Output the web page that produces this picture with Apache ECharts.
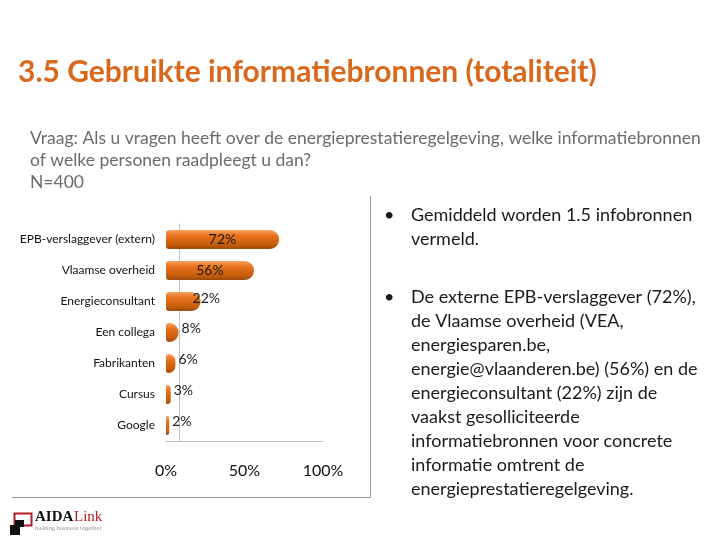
<!DOCTYPE html>
<html><head><meta charset="utf-8">
<script src="https://cdn.jsdelivr.net/npm/echarts@6/dist/echarts.min.js"></script>
<style>html,body{margin:0;padding:0;background:#fff}#c{width:720px;height:540px}</style>
</head><body><div id="c"></div>
<script>
const categories = ['EPB-verslaggever (extern)', 'Vlaamse overheid', 'Energieconsultant', 'Een collega', 'Fabrikanten', 'Cursus', 'Google'];
const values = [72, 56, 22, 8, 6, 3, 2];
const axisMin = 0, axisMax = 100, axisStep = 50;
const titleText = '3.5 Gebruikte informatiebronnen (totaliteit)';
const questionLines = ['Vraag: Als u vragen heeft over de energieprestatieregelgeving, welke informatiebronnen', 'of welke personen raadpleegt u dan?', 'N=400'];
const bullet1Lines = ['Gemiddeld worden 1.5 infobronnen', 'vermeld.'];
const bullet2Lines = ['De externe EPB-verslaggever (72%),', 'de Vlaamse overheid (VEA,', 'energiesparen.be,', 'energie@vlaanderen.be) (56%) en de', 'energieconsultant (22%) zijn de', 'vaakst gesolliciteerde', 'informatiebronnen voor concrete', 'informatie omtrent de', 'energieprestatieregelgeving.'];

const FONT = 'Lato';
const chart = echarts.init(document.getElementById('c'), null, {renderer: 'canvas'});

const barGradient = new echarts.graphic.LinearGradient(0, 0, 0, 1, [
  {offset: 0, color: '#F2A262'},
  {offset: 0.3, color: '#E8721C'},
  {offset: 0.75, color: '#C85E0C'},
  {offset: 1, color: '#9C4A0A'}
]);

const seriesData = values.map(v => ({
  value: v,
  label: v >= 50
    ? {position: 'inside', offset: [0, 0]}
    : (v >= 20 ? {position: 'right', distance: -8, offset: [0, -3]} : {position: 'right', distance: 3, offset: [0, -4]})
}));

chart.setOption({
  backgroundColor: '#ffffff',
  animation: false,
  title: [
    {text: titleText, left: 18, top: 57, padding: 0, textStyle: {fontFamily: FONT, fontSize: 30, fontWeight: 'bold', color: '#D8691C'}},
    {text: questionLines.join('\n'), left: 30, top: 127, padding: 0, textStyle: {fontFamily: FONT, fontSize: 17.5, fontWeight: 'normal', color: '#6b6b6b', lineHeight: 22}},
    {text: '•', left: 384, top: 203, padding: 0, textStyle: {fontFamily: FONT, fontSize: 18, fontWeight: 'normal', color: '#1a1a1a', lineHeight: 24}},
    {text: bullet1Lines.join('\n'), left: 411, top: 203, padding: 0, textStyle: {fontFamily: FONT, fontSize: 18, fontWeight: 'normal', color: '#1a1a1a', lineHeight: 24}},
    {text: '•', left: 384, top: 285, padding: 0, textStyle: {fontFamily: FONT, fontSize: 18, fontWeight: 'normal', color: '#1a1a1a', lineHeight: 24}},
    {text: bullet2Lines.join('\n'), left: 411, top: 285, padding: 0, textStyle: {fontFamily: FONT, fontSize: 18, fontWeight: 'normal', color: '#1a1a1a', lineHeight: 24}}
  ],
  grid: {left: 166, top: 224, width: 157, height: 217, containLabel: false},
  xAxis: {
    type: 'value', min: axisMin, max: axisMax, interval: axisStep,
    axisLine: {show: true, lineStyle: {color: '#BFBFBF', width: 1}},
    axisTick: {show: false},
    splitLine: {show: false},
    axisLabel: {formatter: '{value}%', fontFamily: FONT, fontSize: 16, color: '#111', margin: 22}
  },
  yAxis: {
    type: 'category', data: categories, inverse: true, offset: -13,
    axisLine: {show: true, lineStyle: {color: '#BFBFBF', width: 1}},
    axisTick: {show: false},
    axisLabel: {fontFamily: FONT, fontSize: 12, color: '#111', margin: 24}
  },
  series: [{
    type: 'bar', data: seriesData, barWidth: 19,
    itemStyle: {color: barGradient, borderRadius: [3, 9, 9, 3]},
    label: {show: true, formatter: '{c}%', fontFamily: FONT, fontSize: 14, color: '#1a1a1a'}
  }],
  graphic: [
    {type: 'line', shape: {x1: 370.5, y1: 196, x2: 370.5, y2: 497}, style: {stroke: '#9a9a9a', lineWidth: 1}},
    {type: 'line', shape: {x1: 12, y1: 497.5, x2: 371, y2: 497.5}, style: {stroke: '#9a9a9a', lineWidth: 1}},
    {type: 'rect', shape: {x: 14.5, y: 513.5, width: 17, height: 12}, style: {fill: 'none', stroke: '#B01E23', lineWidth: 2}},
    {type: 'rect', shape: {x: 15, y: 520, width: 9, height: 7}, style: {fill: '#111'}},
    {type: 'rect', shape: {x: 10, y: 525, width: 10, height: 10}, style: {fill: '#111'}},
    {type: 'text', x: 35, y: 510, style: {text: 'AIDA', font: 'bold 15px "Liberation Serif"', fill: '#111'}},
    {type: 'text', x: 74, y: 510, style: {text: 'Link', font: '15px "Liberation Serif"', fill: '#B01E23'}},
    {type: 'text', x: 35, y: 526, style: {text: 'building business together', font: '5px "DejaVu Sans"', fill: '#888'}}
  ]
});
</script></body></html>
